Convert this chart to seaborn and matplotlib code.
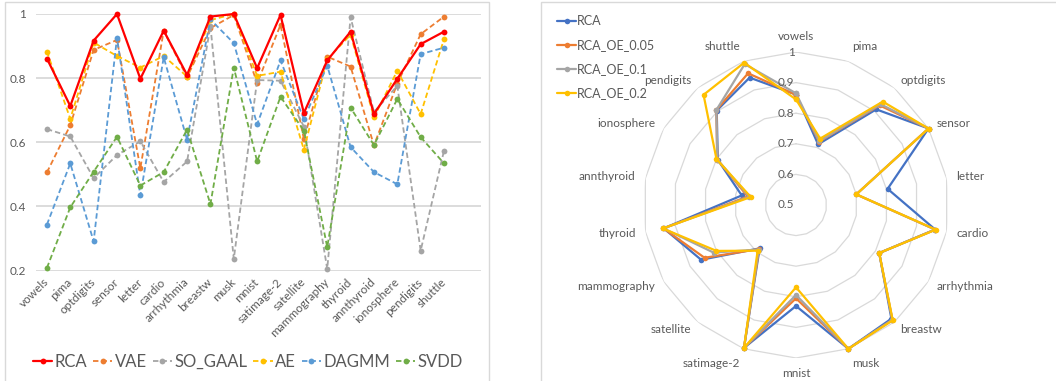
import numpy as np
import pandas as pd
import matplotlib
matplotlib.use("Agg")
import matplotlib.pyplot as plt
from matplotlib.patches import Rectangle
from matplotlib.transforms import offset_copy
import seaborn as sns

datasets = ["vowels", "pima", "optdigits", "sensor", "letter", "cardio", "arrhythmia",
            "breastw", "musk", "mnist", "satimage-2", "satellite", "mammography",
            "thyroid", "annthyroid", "ionosphere", "pendigits", "shuttle"]

# left panel: AUC per baseline
models = ["RCA", "VAE", "SO_GAAL", "AE", "DAGMM", "SVDD"]
rca = [0.861, 0.713, 0.917, 1.0, 0.798, 0.948, 0.810, 0.992, 1.0, 0.831, 0.997, 0.691, 0.855, 0.945, 0.688, 0.798, 0.906, 0.945]
vae = [0.506, 0.653, 0.888, 0.919, 0.519, 0.948, 0.803, 0.956, 0.997, 0.784, 0.966, 0.610, 0.867, 0.836, 0.590, 0.783, 0.937, 0.992]
so_gaal = [0.641, 0.618, 0.488, 0.560, 0.603, 0.476, 0.540, 0.962, 0.236, 0.794, 0.792, 0.649, 0.205, 0.990, 0.694, 0.776, 0.262, 0.574]
ae = [0.883, 0.673, 0.911, 0.869, 0.833, 0.869, 0.805, 0.981, 1.0, 0.807, 0.820, 0.577, 0.859, 0.935, 0.678, 0.823, 0.688, 0.922]
dagmm = [0.343, 0.534, 0.291, 0.926, 0.434, 0.865, 0.608, 0.983, 0.909, 0.656, 0.855, 0.672, 0.839, 0.585, 0.507, 0.469, 0.875, 0.895]
svdd = [0.208, 0.397, 0.508, 0.617, 0.465, 0.507, 0.639, 0.407, 0.833, 0.540, 0.742, 0.636, 0.273, 0.708, 0.591, 0.735, 0.616, 0.534]
model_colors = ["#ff0000", "#ed7d31", "#a5a5a5", "#ffc000", "#5b9bd5", "#70ad47"]

# right panel: RCA with outlier ratio variants
variants = ["RCA", "RCA_OE_0.05", "RCA_OE_0.1", "RCA_OE_0.2"]
r_rca = [0.861, 0.711, 0.908, 1.0, 0.804, 0.962, 0.814, 0.985, 1.0, 0.830, 0.997, 0.685, 0.858, 0.939, 0.680, 0.795, 0.903, 0.943]
r_oe05 = [0.860, 0.720, 0.925, 1.0, 0.700, 0.962, 0.814, 0.990, 1.0, 0.805, 0.997, 0.688, 0.845, 0.940, 0.660, 0.797, 0.905, 0.958]
r_oe10 = [0.865, 0.722, 0.930, 1.0, 0.700, 0.962, 0.814, 0.990, 1.0, 0.794, 0.997, 0.690, 0.811, 0.940, 0.655, 0.797, 0.905, 0.990]
r_oe20 = [0.845, 0.731, 0.941, 1.0, 0.700, 0.964, 0.814, 0.992, 1.0, 0.769, 0.997, 0.695, 0.800, 0.942, 0.650, 0.800, 0.970, 0.995]
variant_colors = ["#4472c4", "#ed7d31", "#a5a5a5", "#ffc000"]
rings = [0.6, 0.7, 0.8, 0.9, 1.0]
ring_labels = ["0.5", "0.6", "0.7", "0.8", "0.9", "1"]

sns.set_style("white")
plt.rcParams['font.family'] = ['Lato', 'DejaVu Sans']
txt = "#595959"
grid = "#d9d9d9"

W, H = 1056, 381
fig = plt.figure(figsize=(W / 100, H / 100), dpi=100)

# chart frames
fig.add_artist(Rectangle((5 / W, -0.1), 484 / W, 1.1 - 2 / H, transform=fig.transFigure,
                         fill=False, ec=grid, lw=1))
fig.add_artist(Rectangle((541 / W, -0.1), 0.6, 1.1 - 2 / H, transform=fig.transFigure,
                         fill=False, ec=grid, lw=1))

# ---- left line chart
pos = np.arange(len(datasets))
left_df = pd.concat([pd.DataFrame({"pos": pos, "auc": v, "model": m})
                     for m, v in zip(models, [rca, vae, so_gaal, ae, dagmm, svdd])])

ax = fig.add_axes([35.7 / W, 1 - 270.5 / H, 445 / W, 256.5 / H])
dash = {m: (3, 1.7) for m in models}
dash["RCA"] = ""
sns.lineplot(data=left_df, x="pos", y="auc", hue="model", style="model", hue_order=models,
             style_order=models, palette=model_colors, dashes=dash,
             markers={m: "o" for m in models}, markersize=4.2, markeredgewidth=0,
             linewidth=1.3, estimator=None, legend=False, ax=ax)
for line, m in zip(ax.lines, models):
    line.set_label(m)
    line.set_clip_on(False)
ax.lines[0].set_linewidth(1.6)
ax.lines[0].set_zorder(5)

ax.set_xlim(-0.48, 18.57)
ax.set_ylim(0.2, 1.0)
ax.set_yticks([0.2, 0.4, 0.6, 0.8, 1.0])
ax.set_yticklabels(["0.2", "0.4", "0.6", "0.8", "1"], fontsize=8.5, color=txt)
ax.set_xticks(pos)
ax.set_xticklabels(datasets, rotation=45, ha="right", va="center", rotation_mode="anchor",
                   fontsize=8.5, color=txt)
ax.tick_params(axis="x", length=0, pad=7)
ax.tick_params(axis="y", length=0, pad=7)
ax.yaxis.grid(True, color=grid, lw=1.3)
ax.set_axisbelow(True)
ax.set_xlabel("")
ax.set_ylabel("")
for s in ax.spines.values():
    s.set_visible(False)

fig.legend(handles=ax.lines[:6], labels=models, loc="center",
           bbox_to_anchor=(248 / W, 1 - 362 / H), ncol=6, frameon=False, fontsize=12,
           handlelength=1.15, handletextpad=0.15, columnspacing=0.35, labelcolor=txt,
           numpoints=1)

# ---- right radar chart
n = len(datasets)
angles = np.linspace(0, 2 * np.pi, n, endpoint=False)
loop = np.append(angles, 2 * np.pi)
radar_df = pd.concat([pd.DataFrame({"theta": loop, "auc": np.append(v, v[0]), "variant": name})
                      for name, v in zip(variants, [r_rca, r_oe05, r_oe10, r_oe20])])

rax = fig.add_axes([(796 - 153) / W, (H - 205 - 153) / H, 306 / W, 306 / H], projection="polar")
rax.set_theta_zero_location("N")
rax.set_theta_direction(-1)
sns.lineplot(data=radar_df, x="theta", y="auc", hue="variant", hue_order=variants,
             palette=variant_colors, marker="o", markersize=4, markeredgewidth=0,
             linewidth=1.6, sort=False, estimator=None, legend=False, ax=rax)
for line, name in zip(rax.lines, variants):
    line.set_label(name)
    line.set_clip_on(False)
series_lines = list(rax.lines[:4])

for r in rings:
    rax.plot(loop, [r] * len(loop), color=grid, lw=0.9, zorder=0)

rax.set_ylim(0.5, 1.0)
rax.grid(False)
rax.spines["polar"].set_visible(False)
rax.set_xticks([])
rax.set_yticks([])
rax.set_xlabel("")
rax.set_ylabel("")
rax.set_facecolor("none")

lab_tr = offset_copy(rax.transData, fig=fig, x=-1, y=0, units="points")
for v, lab in zip([0.5] + rings, ring_labels):
    rax.text(0, v, lab, transform=lab_tr, ha="right", va="center", fontsize=8.5, color=txt)

for a, name in zip(angles, datasets):
    s, c = np.sin(a), np.cos(a)
    ha = "center" if abs(s) < 0.1 else ("left" if s > 0 else "right")
    va = "bottom" if c > 0.8 else ("top" if c < -0.8 else "center")
    rax.annotate(name, (a, 1.0), xytext=(7 * s, 7 * c), textcoords="offset points",
                 ha=ha, va=va, fontsize=8.5, color=txt)

fig.legend(handles=series_lines, labels=variants, loc="upper left",
           bbox_to_anchor=(546 / W, 1 - 4 / H), frameon=False, fontsize=9,
           labelspacing=0.95, handlelength=1.5, handletextpad=0.1, labelcolor=txt,
           numpoints=1)

fig.savefig("out.png", dpi=100)
